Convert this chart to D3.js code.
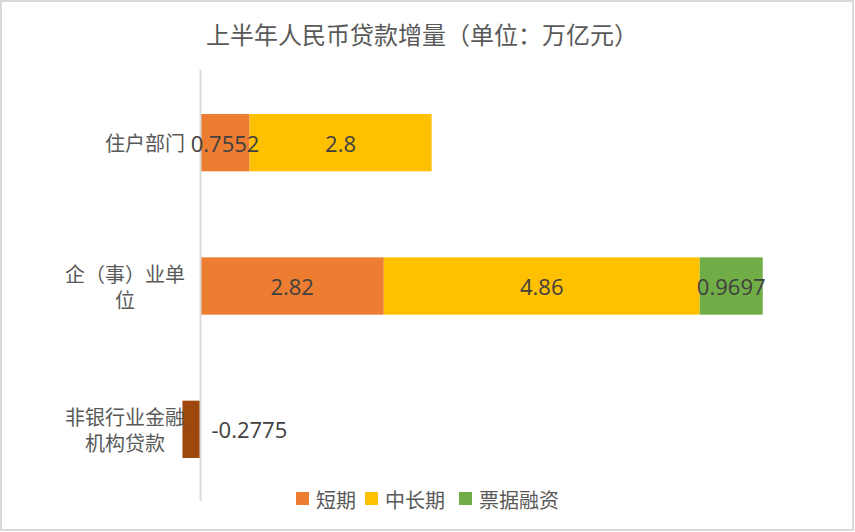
<!DOCTYPE html>
<html>
<head>
<meta charset="utf-8">
<script src="https://cdn.jsdelivr.net/npm/d3@7"></script>
<style>
  html, body { margin: 0; padding: 0; background: #fff; }
  svg { display: block; }
</style>
</head>
<body>
<svg id="chart" width="855" height="532"></svg>
<script>
// ---- data ----
const title = "上半年人民币贷款增量（单位：万亿元）";
const categories = ["住户部门", "企（事）业单位", "非银行业金融机构贷款"];
const categoryLines = [["住户部门"], ["企（事）业单", "位"], ["非银行业金融", "机构贷款"]];
const seriesNames = ["短期", "中长期", "票据融资"];
const shortTerm = [0.7552, 2.82, null];
const longTerm = [2.8, 4.86, null];
const billFinancing = [null, 0.9697, null];
const nonBankLoans = [null, null, -0.2775];
const seriesColors = ["#ED7D31", "#FFC000", "#70AD47"];
const nonBankColor = "#9E480E";

const svg = d3.select("#chart");
const W = 855, H = 532;

// border
svg.append("rect").attr("x", 1).attr("y", 1).attr("width", W - 3).attr("height", H - 3)
  .attr("fill", "#fff").attr("stroke", "#d9d9d9").attr("stroke-width", 2);

// title
svg.append("text").attr("x", 422).attr("y", 33)
  .attr("text-anchor", "middle").attr("dominant-baseline", "central")
  .attr("font-family", "'Noto Sans CJK SC', sans-serif").attr("font-size", 24)
  .attr("fill", "#595959").text(title);

// scales
const x = d3.scaleLinear().domain([-1, 10]).range([135.5, 850.5]);
const y = d3.scaleBand().domain(categories).range([71, 501]).paddingInner(0.6).paddingOuter(0.3);

// stacked data
const seriesArrays = [shortTerm, longTerm, billFinancing];
const rows = categories.map((c, i) => {
  const r = { cat: c };
  seriesNames.forEach((s, j) => r[s] = seriesArrays[j][i] || 0);
  return r;
});
const stack = d3.stack().keys(seriesNames)(rows);

const g = svg.append("g");
stack.forEach((layer, j) => {
  layer.forEach((d, i) => {
    const v = seriesArrays[j][i];
    if (v == null) return;
    const x0 = x(d[0]), x1 = x(d[1]);
    g.append("rect").attr("x", x0).attr("y", y(categories[i]))
      .attr("width", x1 - x0).attr("height", y.bandwidth())
      .attr("fill", seriesColors[j]);
  });
});
// negative bar
nonBankLoans.forEach((v, i) => {
  if (v == null) return;
  g.append("rect").attr("x", x(v)).attr("y", y(categories[i]))
    .attr("width", x(0) - x(v)).attr("height", y.bandwidth())
    .attr("fill", nonBankColor);
});

// axis line (category axis at zero)
svg.append("line").attr("x1", x(0)).attr("x2", x(0)).attr("y1", 70).attr("y2", 501)
  .attr("stroke", "#d9d9d9").attr("stroke-width", 2);

// data labels
const lab = svg.append("g").attr("font-family", "'Open Sans', sans-serif")
  .attr("font-size", 22).attr("fill", "#404040");
stack.forEach((layer, j) => {
  layer.forEach((d, i) => {
    const v = seriesArrays[j][i];
    if (v == null) return;
    lab.append("text").attr("x", (x(d[0]) + x(d[1])) / 2)
      .attr("y", y(categories[i]) + y.bandwidth() / 2)
      .attr("text-anchor", "middle").attr("dominant-baseline", "central")
      .text(v);
  });
});
nonBankLoans.forEach((v, i) => {
  if (v == null) return;
  lab.append("text").attr("x", x(0) + 11)
    .attr("y", y(categories[i]) + y.bandwidth() / 2)
    .attr("text-anchor", "start").attr("dominant-baseline", "central")
    .text(v);
});

// category labels
const catG = svg.append("g").attr("font-family", "'Noto Sans CJK SC', sans-serif")
  .attr("font-size", 20).attr("fill", "#595959");
categories.forEach((c, i) => {
  const lines = categoryLines[i];
  const cy = y(c) + y.bandwidth() / 2;
  const lh = 26;
  const tmp = catG.append("text").text(lines.reduce((a, b) => a.length >= b.length ? a : b));
  const w = tmp.node().getComputedTextLength();
  tmp.remove();
  const right = 185;
  const cx = right - w / 2;
  lines.forEach((ln, k) => {
    catG.append("text").attr("text-anchor", "middle").attr("x", cx)
      .attr("y", cy + (k - (lines.length - 1) / 2) * lh)
      .attr("dominant-baseline", "central").text(ln);
  });
});

// legend
const leg = svg.append("g").attr("font-family", "'Noto Sans CJK SC', sans-serif")
  .attr("font-size", 20).attr("fill", "#595959");
const legX = [296, 365, 459];
seriesNames.forEach((s, j) => {
  leg.append("rect").attr("x", legX[j]).attr("y", 492).attr("width", 13).attr("height", 13)
    .attr("fill", seriesColors[j]);
  leg.append("text").attr("x", legX[j] + 20).attr("y", 499)
    .attr("dominant-baseline", "central").text(s);
});
</script>
</body>
</html>
